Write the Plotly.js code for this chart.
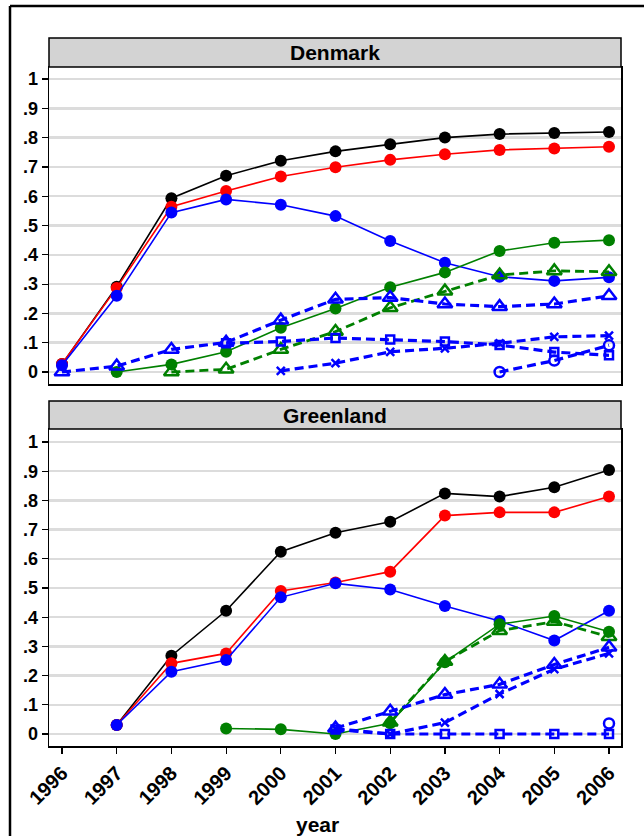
<!DOCTYPE html>
<html><head><meta charset="utf-8">
<script src="https://cdn.plot.ly/plotly-3.0.1.min.js"></script>
<style>html,body{margin:0;padding:0;background:#fff}</style>
</head><body><div id="chart" style="width:644px;height:836px"></div>
<script>
const years = [1996,1997,1998,1999,2000,2001,2002,2003,2004,2005,2006];
const yTickVals = [0,0.1,0.2,0.3,0.4,0.5,0.6,0.7,0.8,0.9,1];
const yTickText = ['0','.1','.2','.3','.4','.5','.6','.7','.8','.9','1'];
const panelTitles = ['Denmark','Greenland'];
const xTitle = 'year';

// Denmark
const dkBlack    = [0.027,0.291,0.593,0.670,0.721,0.753,0.777,0.800,0.812,0.816,0.819];
const dkRed      = [0.027,0.287,0.564,0.618,0.667,0.699,0.724,0.743,0.758,0.763,0.769];
const dkBlue     = [0.023,0.260,0.544,0.589,0.571,0.532,0.447,0.373,0.325,0.311,0.323];
const dkGreen    = [null,0.000,0.026,0.069,0.151,0.217,0.289,0.340,0.413,0.441,0.450];
const dkGreenTri = [null,null,0.000,0.009,0.077,0.138,0.219,0.276,0.331,0.345,0.342];
const dkBlueTri  = [0.000,0.020,0.077,0.101,0.177,0.248,0.254,0.232,0.223,0.232,0.260];
const dkBlueSq   = [null,null,null,0.098,0.104,0.116,0.111,0.104,0.092,0.068,0.057];
const dkBlueX    = [null,null,null,null,0.004,0.030,0.069,0.081,0.098,0.120,0.124];
const dkBlueCirc = [null,null,null,null,null,null,null,null,0.000,0.039,0.091];

// Greenland
const glBlack    = [null,0.031,0.268,0.422,0.624,0.689,0.727,0.824,0.813,0.845,0.904];
const glRed      = [null,0.031,0.242,0.276,0.490,0.519,0.556,0.748,0.759,0.759,0.813];
const glBlue     = [null,0.031,0.213,0.253,0.468,0.516,0.495,0.438,0.387,0.320,0.422];
const glGreen    = [null,null,null,0.019,0.016,0.000,0.037,0.246,0.376,0.404,0.350];
const glGreenTri = [null,null,null,null,null,null,0.040,0.248,0.354,0.385,0.333];
const glBlueTri  = [null,null,null,null,null,0.020,0.078,0.135,0.170,0.238,0.297];
const glBlueX    = [null,null,null,null,null,0.018,0.000,0.039,0.137,0.222,0.276];
const glBlueSq   = [null,null,null,null,null,0.015,0.000,0.000,0.000,0.000,0.000];
const glBlueCirc = [null,null,null,null,null,null,null,null,null,null,0.036];

const W = 644, H = 836;
const px = v => v / W;
const py = v => 1 - v / H;

const BLACK = '#000000', RED = '#ff0000', BLUE = '#0000ff', GREEN = '#008000';
const DASH = '9px,5px';

function solid(y, color, xa, ya) {
  return {x: years, y: y, xaxis: xa, yaxis: ya, type: 'scatter', mode: 'lines+markers',
    line: {color: color, width: 1.6}, marker: {symbol: 'circle', size: 12, color: color},
    showlegend: false, hoverinfo: 'skip'};
}
function dashed(y, color, symbol, size, xa, ya, lw) {
  return {x: years, y: y, xaxis: xa, yaxis: ya, type: 'scatter', mode: 'lines+markers',
    line: {color: color, width: lw, dash: DASH},
    marker: {symbol: symbol, size: size, color: color, line: {color: color, width: 2.5}},
    showlegend: false, hoverinfo: 'skip'};
}
function panel(s, xa, ya) {
  return [
    solid(s[0], BLACK, xa, ya),
    solid(s[1], RED, xa, ya),
    solid(s[2], BLUE, xa, ya),
    solid(s[3], GREEN, xa, ya),
    dashed(s[4], GREEN, 'triangle-up-open', 13, xa, ya, 2.8),
    dashed(s[5], BLUE, 'triangle-up-open', 13, xa, ya, 3.2),
    dashed(s[6], BLUE, 'square-open', 8, xa, ya, 3.2),
    dashed(s[7], BLUE, 'x-thin-open', 8, xa, ya, 3.2),
    dashed(s[8], BLUE, 'circle-open', 10, xa, ya, 3.2)
  ];
}

const data = [
  ...panel([dkBlack, dkRed, dkBlue, dkGreen, dkGreenTri, dkBlueTri, dkBlueSq, dkBlueX, dkBlueCirc], 'x', 'y'),
  ...panel([glBlack, glRed, glBlue, glGreen, glGreenTri, glBlueTri, glBlueSq, glBlueX, glBlueCirc], 'x2', 'y2')
];

const FONT = 'Liberation Sans, Arial, sans-serif';
const xDom = [px(49), px(621)];
const xRange = [1996 - 13/54.7, 2006 + 12/54.7];

function yAxis(dom, range) {
  return {domain: dom, range: range, tickvals: yTickVals, ticktext: yTickText,
    ticks: 'outside', ticklen: 6, tickwidth: 1.2, tickcolor: '#000',
    showgrid: true, gridcolor: '#dcdcdc', gridwidth: 2.5, zeroline: false,
    showline: true, mirror: true, linecolor: '#000', linewidth: 1.5,
    tickfont: {family: FONT, size: 18, color: '#000', weight: 'bold'},
    automargin: false, fixedrange: true};
}

const layout = {
  width: W, height: H,
  margin: {l: 0, r: 0, t: 0, b: 0},
  paper_bgcolor: '#ffffff', plot_bgcolor: '#ffffff',
  showlegend: false,
  xaxis: {domain: xDom, range: xRange, anchor: 'y', showticklabels: false, ticks: '',
    showgrid: false, zeroline: false, showline: true, mirror: true, linecolor: '#000', linewidth: 1.5,
    automargin: false, fixedrange: true},
  yaxis: yAxis([py(384), py(67)], [-12/293, 1 + 12/293]),
  xaxis2: {domain: xDom, range: xRange, anchor: 'y2', tickvals: years, ticktext: years.map(String),
    tickangle: -45, ticks: 'outside', ticklen: 6, tickwidth: 1.2, tickcolor: '#000',
    showgrid: false, zeroline: false, showline: true, mirror: true, linecolor: '#000', linewidth: 1.5,
    tickfont: {family: FONT, size: 20, color: '#000', weight: 'bold'},
    automargin: false, fixedrange: true},
  yaxis2: yAxis([py(746), py(429)], [-12/292, 1 + 13/292]),
  shapes: [
    {type: 'rect', xref: 'paper', yref: 'paper', x0: px(49), x1: px(621), y0: py(67), y1: py(38),
     fillcolor: '#d3d3d3', line: {color: '#000', width: 1.5}},
    {type: 'rect', xref: 'paper', yref: 'paper', x0: px(49), x1: px(621), y0: py(429), y1: py(401),
     fillcolor: '#d3d3d3', line: {color: '#000', width: 1.5}},
    {type: 'line', xref: 'paper', yref: 'paper', x0: px(10), x1: 1.02, y0: py(6), y1: py(6),
     line: {color: '#000', width: 2.5}},
    {type: 'line', xref: 'paper', yref: 'paper', x0: px(10), x1: px(10), y0: py(6), y1: -0.02,
     line: {color: '#000', width: 2.5}}
  ],
  annotations: [
    {text: panelTitles[0], xref: 'paper', yref: 'paper', x: px(335), y: py(52.5), showarrow: false,
     xanchor: 'center', yanchor: 'middle', font: {family: FONT, size: 21, color: '#000', weight: 'bold'}},
    {text: panelTitles[1], xref: 'paper', yref: 'paper', x: px(335), y: py(415), showarrow: false,
     xanchor: 'center', yanchor: 'middle', font: {family: FONT, size: 21, color: '#000', weight: 'bold'}},
    {text: xTitle, xref: 'paper', yref: 'paper', x: px(317), y: py(824), showarrow: false,
     xanchor: 'center', yanchor: 'middle', font: {family: FONT, size: 21, color: '#000', weight: 'bold'}}
  ]
};

Plotly.newPlot('chart', data, layout, {displayModeBar: false, staticPlot: true});
</script>
</body></html>
